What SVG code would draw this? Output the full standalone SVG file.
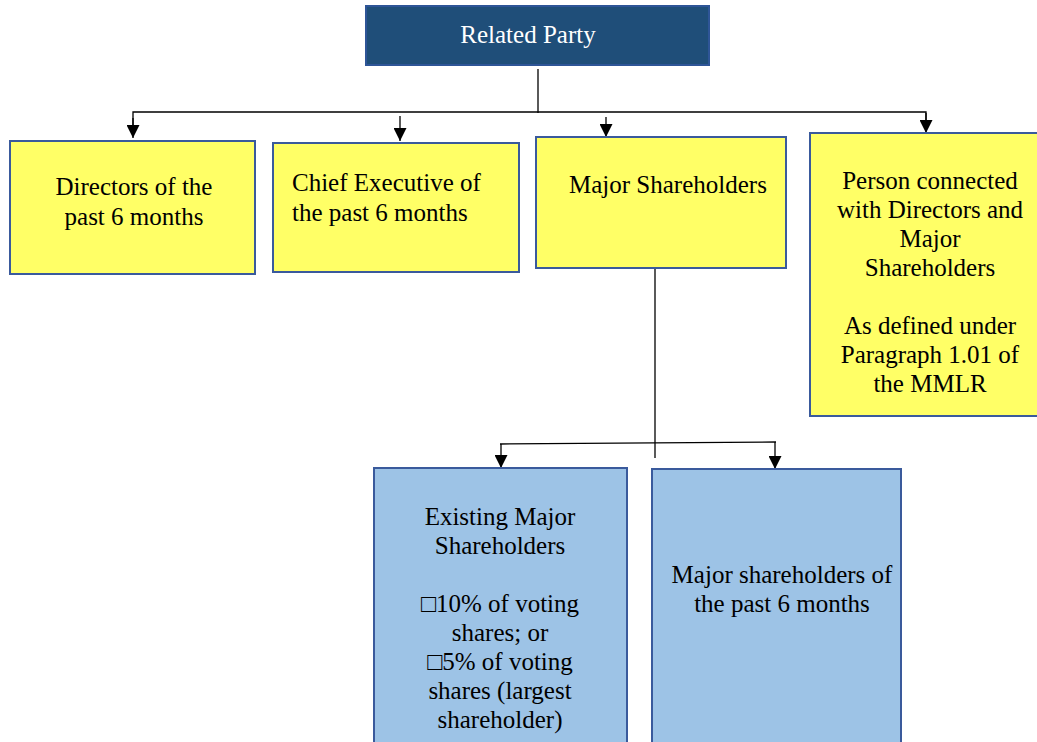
<svg xmlns="http://www.w3.org/2000/svg" width="1037" height="742" viewBox="0 0 1037 742">
<defs>
<marker id="arr" markerWidth="13" markerHeight="13" refX="13" refY="6.5" orient="auto" markerUnits="userSpaceOnUse" viewBox="0 0 13 13">
<path d="M0,0 L13,6.5 L0,13 Z" fill="#000"/>
</marker>
</defs>
<style>
.box{stroke:#3a5a9c;stroke-width:2}
.y{fill:#ffff66}
.b{fill:#9dc3e6}
.ln{stroke:#000;stroke-width:1.3;fill:none}
</style>
<rect width="1037" height="742" fill="#fff"/>
<g id="connectors">
<path class="ln" d="M538,69 V113"/>
<path class="ln" d="M133,125 V112 H926 V120" />
<path class="ln" d="M133,118 V138" marker-end="url(#arr)"/>
<path class="ln" d="M400,116 V141" marker-end="url(#arr)"/>
<path class="ln" d="M606,117 V137" marker-end="url(#arr)"/>
<path class="ln" d="M926,113 V133" marker-end="url(#arr)"/>
<path class="ln" d="M655,256 V458"/>
<path class="ln" d="M500,444 L776,442"/>
<path class="ln" d="M501,444 V468" marker-end="url(#arr)"/>
<path class="ln" d="M775,442 V469" marker-end="url(#arr)"/>
</g>
<g font-family="Liberation Serif, Times New Roman, serif" font-size="25" fill="#000">
<g id="related-party">
<rect x="366" y="6" width="343" height="59" fill="#1f4e79" stroke="#2e5597" stroke-width="2"/>
<text x="528" y="43" text-anchor="middle" fill="#fff">Related Party</text>
</g>
<g id="directors">
<rect class="box y" x="10" y="141" width="245" height="133"/>
<text x="134" y="195" text-anchor="middle">Directors of the</text>
<text x="134" y="225" text-anchor="middle">past 6 months</text>
</g>
<g id="chief-executive">
<rect class="box y" x="273" y="143" width="246" height="129"/>
<text x="292" y="191">Chief Executive of</text>
<text x="292" y="221">the past 6 months</text>
</g>
<g id="major-shareholders">
<rect class="box y" x="536" y="137" width="250" height="131"/>
<text x="569" y="193">Major Shareholders</text>
</g>
<g id="person-connected" text-anchor="middle">
<rect class="box y" x="810" y="133" width="232" height="283"/>
<text x="930" y="189">Person connected</text>
<text x="930" y="218">with Directors and</text>
<text x="930" y="247">Major</text>
<text x="930" y="276">Shareholders</text>
<text x="930" y="334">As defined under</text>
<text x="930" y="363">Paragraph 1.01 of</text>
<text x="930" y="392">the MMLR</text>
</g>
<g id="existing-major" text-anchor="middle">
<rect class="box b" x="374" y="468" width="253" height="280"/>
<text x="500" y="525">Existing Major</text>
<text x="500" y="554">Shareholders</text>
<text x="500" y="612">□10% of voting</text>
<text x="500" y="641">shares; or</text>
<text x="500" y="670">□5% of voting</text>
<text x="500" y="699">shares (largest</text>
<text x="500" y="728">shareholder)</text>
</g>
<g id="past-major" text-anchor="middle">
<rect class="box b" x="652" y="469" width="249" height="280"/>
<text x="782" y="583">Major shareholders of</text>
<text x="782" y="612">the past 6 months</text>
</g>
</g>
</svg>
